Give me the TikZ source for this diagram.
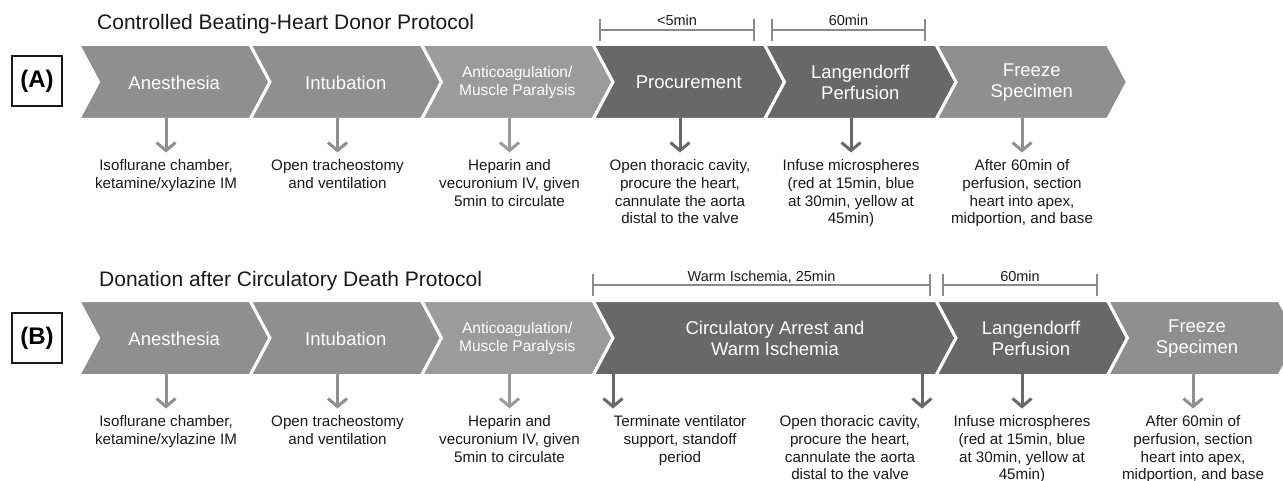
\documentclass[tikz,border=0pt]{standalone}
\usepackage{fontspec}
\setmainfont{Liberation Sans}
\usetikzlibrary{arrows.meta}
\definecolor{lg}{HTML}{8F8F8F}
\definecolor{mg}{HTML}{9B9B9B}
\definecolor{dg}{HTML}{686868}
\definecolor{brk}{HTML}{8A8A8A}
\definecolor{txt}{HTML}{1A1A1A}
\tikzset{
  chev/.style={fill=#1, draw=white, line width=3pt, line join=miter},
  chevtext/.style={text=white, align=center, font=\fontsize{18.5}{21}\selectfont, inner sep=0},
  chevsmall/.style={text=white, align=center, font=\fontsize{15.5}{18}\selectfont, inner sep=0},
  desc/.style={align=center, font=\fontsize{15.2}{17.7}\selectfont, inner sep=0, anchor=north, text=txt},
  downarr/.style={draw=#1, line width=3pt, shorten >=7pt, -{Straight Barb[length=8pt,width=19pt]}},
  brack/.style={draw=brk, line width=1.5pt},
  brtext/.style={font=\fontsize{14.5}{16}\selectfont, inner sep=0, anchor=base, text=txt},
  ttl/.style={font=\fontsize{21}{24}\selectfont, anchor=base west, inner sep=0, text=txt},
  lab/.style={draw=black!90, line width=2pt, minimum size=50pt, inner sep=0, font=\fontsize{24}{28}\selectfont\bfseries}
}
\newcommand\chevpath[5]{% x0, width, top, bottom, color
  \path[chev=#5] (#1,#3) -- ({#1+#2},#3) -- ({#1+#2+20},{(#3+#4)/2}) -- ({#1+#2},#4) -- (#1,#4) -- ({#1+20},{(#3+#4)/2}) -- cycle;}
\begin{document}
\begin{tikzpicture}[x=1pt,y=-1pt]
\clip (0,0) rectangle (1283,481);
\fill[white] (0,0) rectangle (1283,481);

% ---------------- Row A ----------------
\node[ttl] (ta) at (97,29.5) {Controlled Beating-Heart Donor Protocol};
\node[lab] (la) at (37,81) {(A)};

\chevpath{78.5}{171.5}{44.5}{119.5}{lg}
\chevpath{250}{171.5}{44.5}{119.5}{lg}
\chevpath{421.5}{171.5}{44.5}{119.5}{mg}
\chevpath{593}{171.5}{44.5}{119.5}{dg}
\chevpath{764.5}{171.5}{44.5}{119.5}{dg}
\chevpath{936}{171.5}{44.5}{119.5}{lg}

\node[chevtext] (a1) at (174.25,82.5) {Anesthesia};
\node[chevtext] (a2) at (345.75,82.5) {Intubation};
\node[chevsmall] (a3) at (517.25,82.5) {Anticoagulation/\\Muscle Paralysis};
\node[chevtext] (a4) at (688.75,82.5) {Procurement};
\node[chevtext] (a5) at (860.25,82.5) {Langendorff\\Perfusion};
\node[chevtext] (a6) at (1031.75,82.5) {Freeze\\Specimen};

% brackets A
\coordinate (ba1l) at (600,30); \coordinate (ba1r) at (754,30);
\draw[brack] (ba1l) -- (ba1r);
\draw[brack] ([yshift=11pt]ba1l) -- ([yshift=-11pt]ba1l);
\draw[brack] ([yshift=11pt]ba1r) -- ([yshift=-11pt]ba1r);
\node[brtext] (bta1) at (677,25.5) {<5min};
\coordinate (ba2l) at (772,30); \coordinate (ba2r) at (925,30);
\draw[brack] (ba2l) -- (ba2r);
\draw[brack] ([yshift=11pt]ba2l) -- ([yshift=-11pt]ba2l);
\draw[brack] ([yshift=11pt]ba2r) -- ([yshift=-11pt]ba2r);
\node[brtext] (bta2) at (848.5,25.5) {60min};

% descriptions A
\node[desc] (da1) at (166,159.5) {Isoflurane chamber,\\ketamine/xylazine IM};
\node[desc] (da2) at (337.5,159.5) {Open tracheostomy\\and ventilation};
\node[desc] (da3) at (509.5,159.5) {Heparin and\\vecuronium IV, given\\5min to circulate};
\node[desc] (da4) at (680,159.5) {Open thoracic cavity,\\procure the heart,\\cannulate the aorta\\distal to the valve};
\node[desc] (da5) at (851,159.5) {Infuse microspheres\\(red at 15min, blue\\at 30min, yellow at\\45min)};
\node[desc] (da6) at (1022,159.5) {After 60min of\\perfusion, section\\heart into apex,\\midportion, and base};

\coordinate (sa1) at (166,118); \coordinate (sa2) at (337.5,118);
\coordinate (sa3) at (509.5,118); \coordinate (sa4) at (680,118);
\coordinate (sa5) at (851,118); \coordinate (sa6) at (1022,118);
\draw[downarr=lg] (sa1) -- (sa1 |- da1.north);
\draw[downarr=lg] (sa2) -- (sa2 |- da2.north);
\draw[downarr=mg] (sa3) -- (sa3 |- da3.north);
\draw[downarr=dg] (sa4) -- (sa4 |- da4.north);
\draw[downarr=dg] (sa5) -- (sa5 |- da5.north);
\draw[downarr=lg] (sa6) -- (sa6 |- da6.north);

% ---------------- Row B ----------------
\node[ttl] (tb) at (99,286.5) {Donation after Circulatory Death Protocol};
\node[lab] (lb) at (37,338) {(B)};

\chevpath{78.5}{171.5}{300.5}{375.5}{lg}
\chevpath{250}{171.5}{300.5}{375.5}{lg}
\chevpath{421.5}{171.5}{300.5}{375.5}{mg}
\chevpath{593}{343}{300.5}{375.5}{dg}
\chevpath{936}{171.5}{300.5}{375.5}{dg}
\chevpath{1107.5}{171.5}{300.5}{375.5}{lg}

\node[chevtext] (b1) at (174.25,338.5) {Anesthesia};
\node[chevtext] (b2) at (345.75,338.5) {Intubation};
\node[chevsmall] (b3) at (517.25,338.5) {Anticoagulation/\\Muscle Paralysis};
\node[chevtext] (b4) at (775,338.5) {Circulatory Arrest and\\Warm Ischemia};
\node[chevtext] (b5) at (1031,338.5) {Langendorff\\Perfusion};
\node[chevtext] (b6) at (1197,338.5) {Freeze\\Specimen};

% brackets B
\coordinate (bb1l) at (593,285); \coordinate (bb1r) at (930,285);
\draw[brack] (bb1l) -- (bb1r);
\draw[brack] ([yshift=11pt]bb1l) -- ([yshift=-11pt]bb1l);
\draw[brack] ([yshift=11pt]bb1r) -- ([yshift=-11pt]bb1r);
\node[brtext] (btb1) at (761.5,281.5) {Warm Ischemia, 25min};
\coordinate (bb2l) at (943,285); \coordinate (bb2r) at (1097,285);
\draw[brack] (bb2l) -- (bb2r);
\draw[brack] ([yshift=11pt]bb2l) -- ([yshift=-11pt]bb2l);
\draw[brack] ([yshift=11pt]bb2r) -- ([yshift=-11pt]bb2r);
\node[brtext] (btb2) at (1020,281.5) {60min};

% descriptions B
\node[desc] (db1) at (166,415.5) {Isoflurane chamber,\\ketamine/xylazine IM};
\node[desc] (db2) at (337.5,415.5) {Open tracheostomy\\and ventilation};
\node[desc] (db3) at (509.5,415.5) {Heparin and\\vecuronium IV, given\\5min to circulate};
\node[desc] (db4) at (680,415.5) {Terminate ventilator\\support, standoff\\period};
\node[desc] (db5) at (850,415.5) {Open thoracic cavity,\\procure the heart,\\cannulate the aorta\\distal to the valve};
\node[desc] (db6) at (1022,415.5) {Infuse microspheres\\(red at 15min, blue\\at 30min, yellow at\\45min)};
\node[desc] (db7) at (1193,415.5) {After 60min of\\perfusion, section\\heart into apex,\\midportion, and base};

\coordinate (sb1) at (166,374); \coordinate (sb2) at (337.5,374);
\coordinate (sb3) at (509.5,374); \coordinate (sb4) at (613,374);
\coordinate (sb5) at (922,374); \coordinate (sb6) at (1022,374);
\coordinate (sb7) at (1193,374);
\draw[downarr=lg] (sb1) -- (sb1 |- db1.north);
\draw[downarr=lg] (sb2) -- (sb2 |- db2.north);
\draw[downarr=mg] (sb3) -- (sb3 |- db3.north);
\draw[downarr=dg] (sb4) -- (sb4 |- db4.north);
\draw[downarr=dg] (sb5) -- (sb5 |- db5.north);
\draw[downarr=dg] (sb6) -- (sb6 |- db6.north);
\draw[downarr=lg] (sb7) -- (sb7 |- db7.north);
\end{tikzpicture}
\end{document}
